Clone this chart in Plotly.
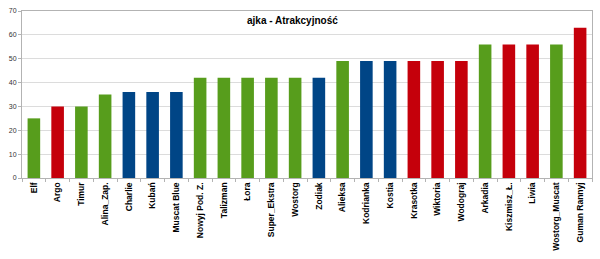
import plotly.graph_objects as go

categories = ["Elf", "Argo", "Timur", "Alina_Zap.", "Charlie", "Kubań", "Muscat Blue",
              "Nowyj Pod. Z.", "Talizman", "Łora", "Super_Ekstra", "Wostorg", "Zodiak",
              "Alieksa", "Kodrianka", "Kostia", "Krasotka", "Wiktoria", "Wodograj",
              "Arkadia", "Kiszmisz_Ł.", "Liwia", "Wostorg_Muscat", "Guman Rannyj"]
values = [25, 30, 30, 35, 36, 36, 36, 42, 42, 42, 42, 42, 42,
          49, 49, 49, 49, 49, 49, 56, 56, 56, 56, 63]
groups = ["g", "r", "g", "g", "b", "b", "b", "g", "g", "g", "g", "g", "b",
          "g", "b", "b", "r", "r", "r", "g", "r", "r", "g", "r"]
palette = {"g": "#579d1c", "r": "#c5000b", "b": "#004586"}
y_ticks = [0, 10, 20, 30, 40, 50, 60, 70]
title = "ajka - Atrakcyjność"

fig = go.Figure(go.Bar(
    x=categories, y=values,
    marker=dict(color=[palette[g] for g in groups], line=dict(width=0)),
    showlegend=False,
))

fig.update_layout(
    width=600, height=259,
    margin=dict(l=22, r=7, t=7, b=81),
    paper_bgcolor="white", plot_bgcolor="white",
    bargap=0.47,
    font=dict(family="Liberation Sans, Arial, sans-serif", color="#000"),
    annotations=[dict(text="<b>" + title + "</b>", x=0.475, y=0.945, xref="paper", yref="paper",
                      xanchor="center", yanchor="middle",
                      showarrow=False, font=dict(size=10, color="#000"))],
)
fig.update_xaxes(
    type="category", tickangle=-90,
    tickfont=dict(size=8.5, family="Liberation Sans, Arial, sans-serif", weight="bold", color="#000"),
    tickson="boundaries", ticks="outside", ticklen=3, tickcolor="#b3b3b3",
    showline=True, linecolor="#b3b3b3", linewidth=1, mirror=True,
    showgrid=False,
)
fig.update_yaxes(
    range=[0, 70], tickvals=y_ticks,
    tickfont=dict(size=7, color="#333"),
    showgrid=True, gridcolor="#dcdcdc", gridwidth=1,
    showline=True, linecolor="#b3b3b3", linewidth=1, mirror=True,
    ticks="outside", ticklen=3, tickcolor="#b3b3b3",
    zeroline=False,
)

fig.write_html("out.html")
